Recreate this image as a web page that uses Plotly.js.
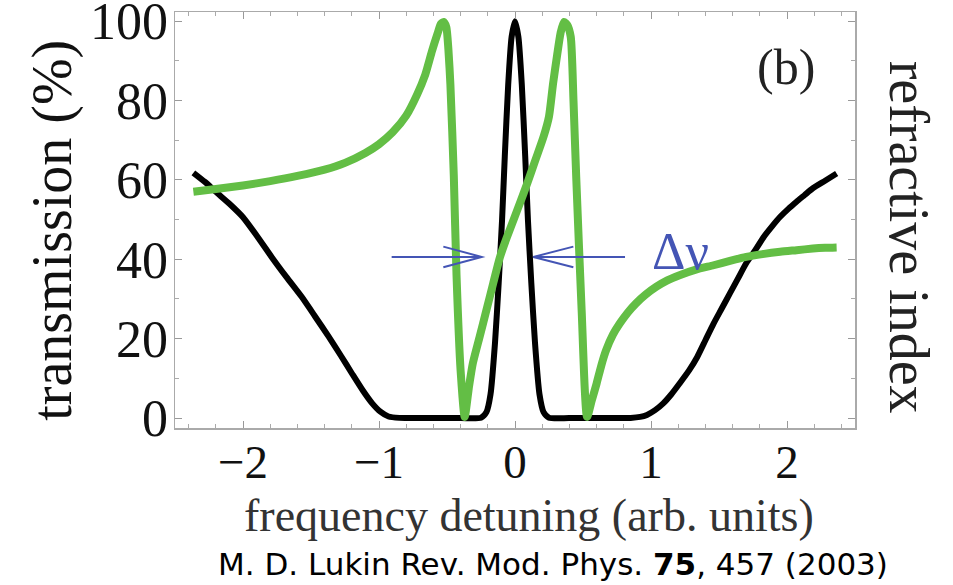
<!DOCTYPE html>
<html>
<head>
<meta charset="utf-8">
<script src="https://cdn.plot.ly/plotly-3.0.1.min.js"></script>
<style>html,body{margin:0;padding:0;background:#fff;}#chart{width:953px;height:585px;}</style>
</head>
<body>
<div id="chart"></div>
<script>
// Transmission (black curve)
const transX = [-2.365, -2.28, -2.2, -2.1, -2.0, -1.9, -1.79, -1.68, -1.57, -1.47, -1.37, -1.28, -1.2, -1.12, -1.05, -0.99, -0.93, -0.85, -0.7, -0.4, -0.25, -0.21, -0.18, -0.147, -0.12, -0.095, -0.075, -0.05, -0.025, 0.0, 0.025, 0.05, 0.075, 0.095, 0.12, 0.147, 0.18, 0.21, 0.25, 0.4, 0.7, 0.85, 0.92, 0.97, 1.03, 1.09, 1.15, 1.21, 1.28, 1.34, 1.40, 1.46, 1.52, 1.58, 1.64, 1.70, 1.77, 1.83, 1.89, 1.95, 2.01, 2.07, 2.13, 2.19, 2.28, 2.365];
const transY = [61.8, 59.5, 57.0, 54.0, 50.6, 46.0, 40.6, 35.5, 30.6, 25.6, 20.5, 15.7, 11.3, 7.0, 3.7, 1.6, 0.4, 0.05, 0, 0, 0.1, 1.5, 6, 19, 34, 50, 66, 84, 96, 100, 96, 84, 66, 50, 34, 19, 6, 1.5, 0.1, 0, 0, 0.05, 0.3, 0.8, 2.0, 3.7, 6.0, 8.7, 12.0, 15.4, 19.6, 23.8, 27.6, 31.4, 35.2, 39, 42.5, 45.7, 48.3, 50.7, 52.7, 54.5, 56.2, 57.9, 59.8, 61.6];
// Refractive index (green curve, arbitrary units on the same scale)
const indexX = [-2.365, -2.2, -2.0, -1.8, -1.6, -1.4, -1.25, -1.1, -1.0, -0.9, -0.8, -0.72, -0.66, -0.61, -0.57, -0.545, -0.525, -0.505, -0.49, -0.475, -0.45, -0.43, -0.40, -0.37, -0.34, -0.31, -0.26, -0.21, -0.16, -0.11, -0.06, -0.01, 0.04, 0.09, 0.15, 0.21, 0.25, 0.28, 0.31, 0.335, 0.36, 0.385, 0.41, 0.43, 0.45, 0.49, 0.53, 0.565, 0.60, 0.635, 0.67, 0.72, 0.77, 0.83, 0.89, 0.96, 1.04, 1.12, 1.21, 1.33, 1.46, 1.58, 1.70, 1.82, 1.95, 2.07, 2.19, 2.28, 2.365];
const indexY = [57.0, 57.7, 58.6, 59.7, 61.0, 62.6, 64.3, 66.8, 69.0, 72.0, 76.2, 81.5, 86.5, 92.5, 96.8, 99.3, 99.8, 98.5, 93, 84, 61, 36, 12, 0.3, 7.5, 13.8, 20.5, 27.2, 34, 40.6, 45.5, 50, 54.5, 59.1, 65, 70.9, 76, 84.3, 91.5, 97, 99.8, 99, 96, 80, 60.8, 27.2, 0.3, 4.5, 8.7, 13.3, 17.1, 21, 23.8, 26.6, 28.9, 31.1, 33.1, 34.7, 36, 37.4, 38.5, 39.6, 40.6, 41.3, 41.9, 42.3, 42.7, 42.9, 43];
// Tick labels
const xTicks = [-2, -1, 0, 1, 2];
const xTickText = ['\u22122', '\u22121', '0', '1', '2'];
const yTicks = [0, 20, 40, 60, 80, 100];
// Linewidth marker (Δν) level
const dnuLevel = 40.6;

const serif = 'Liberation Serif, Times New Roman, serif';
const blue = '#4455b5';

const traces = [
  {x: transX, y: transY, type: 'scatter', mode: 'lines', name: 'transmission',
   line: {color: '#000000', width: 6, shape: 'spline', smoothing: 0.6}, showlegend: false},
  {x: indexX, y: indexY, type: 'scatter', mode: 'lines', name: 'refractive index', yaxis: 'y2',
   line: {color: '#63be45', width: 8, shape: 'spline', smoothing: 0.6}, showlegend: false}
];

const axisCommon = {
  showgrid: false, zeroline: false, showline: true, linecolor: '#aaaaaa', linewidth: 1.5,
  ticks: 'inside', ticklen: 7, tickcolor: '#999999', tickwidth: 1, mirror: 'ticks',
  ticklabeloverflow: 'allow'
};

const layout = {
  width: 953, height: 585,
  margin: {l: 175, r: 98, t: 12, b: 157},
  paper_bgcolor: '#ffffff', plot_bgcolor: '#ffffff',
  font: {family: serif, color: '#111111'},
  xaxis: Object.assign({}, axisCommon, {
    range: [-2.5, 2.5], tickvals: xTicks, ticktext: xTickText,
    tickfont: {family: serif, size: 47, color: '#111'}, ticklabelstandoff: -8,
    minor: {dtick: 0.2, ticklen: 4, tickcolor: '#aaaaaa', ticks: 'inside'}
  }),
  yaxis: Object.assign({}, axisCommon, {
    range: [-2.5, 102.3], tickvals: yTicks,
    tickfont: {family: serif, size: 52, color: '#111'}, ticklabelstandoff: -5,
    minor: {dtick: 10, ticklen: 4, tickcolor: '#aaaaaa', ticks: 'inside'}
  }),
  yaxis2: {overlaying: 'y', side: 'right', range: [-2.5, 102.3], showticklabels: false,
    showgrid: false, zeroline: false, showline: false, ticks: ''},
  shapes: [
    {type: 'line', xref: 'x', yref: 'y', x0: -0.907, x1: -0.245, y0: dnuLevel, y1: dnuLevel, line: {color: blue, width: 2}},
    {type: 'path', xref: 'x', yref: 'y', path: 'M -0.527,' + (dnuLevel + 2.6) + ' L -0.245,' + dnuLevel + ' L -0.527,' + (dnuLevel - 2.6), line: {color: blue, width: 2}},
    {type: 'line', xref: 'x', yref: 'y', x0: 0.135, x1: 0.809, y0: dnuLevel, y1: dnuLevel, line: {color: blue, width: 2}},
    {type: 'path', xref: 'x', yref: 'y', path: 'M 0.429,' + (dnuLevel + 2.6) + ' L 0.135,' + dnuLevel + ' L 0.429,' + (dnuLevel - 2.6), line: {color: blue, width: 2}}
  ],
  annotations: [
    {text: 'transmission (%)', xref: 'paper', yref: 'paper', x: 0, xshift: -122, y: 0.474, textangle: -90,
     xanchor: 'center', yanchor: 'middle', showarrow: false, font: {family: serif, size: 56, color: '#111'}},
    {text: 'frequency detuning (arb. units)', xref: 'paper', yref: 'paper', x: 0.521, y: 0, yshift: -87,
     xanchor: 'center', yanchor: 'middle', showarrow: false, font: {family: serif, size: 46, color: '#333'}},
    {text: '\u0394\u03BD', xref: 'paper', yref: 'paper', x: 0.743, y: 0.425, xanchor: 'center', yanchor: 'middle',
     showarrow: false, font: {family: serif, size: 52, color: blue}},
    {text: '(b)', xref: 'paper', yref: 'paper', x: 0.899, y: 0.868, xanchor: 'center', yanchor: 'middle',
     showarrow: false, font: {family: serif, size: 50, color: '#222'}},
    {text: 'refractive index', xref: 'paper', yref: 'paper', x: 1.0, xshift: 54, y: 0.46, textangle: 90,
     xanchor: 'center', yanchor: 'middle', showarrow: false, font: {family: serif, size: 56, color: '#222'}},
    {text: 'M. D. Lukin Rev. Mod. Phys. <b>75</b>, 457 (2003)', xref: 'paper', yref: 'paper', x: 0.556, y: 0, yshift: -136,
     xanchor: 'center', yanchor: 'middle', showarrow: false, font: {family: 'DejaVu Sans, Noto Sans, sans-serif', size: 31, color: '#000'}}
  ]
};

Plotly.newPlot('chart', traces, layout, {displayModeBar: false, staticPlot: true});
</script>
</body>
</html>
